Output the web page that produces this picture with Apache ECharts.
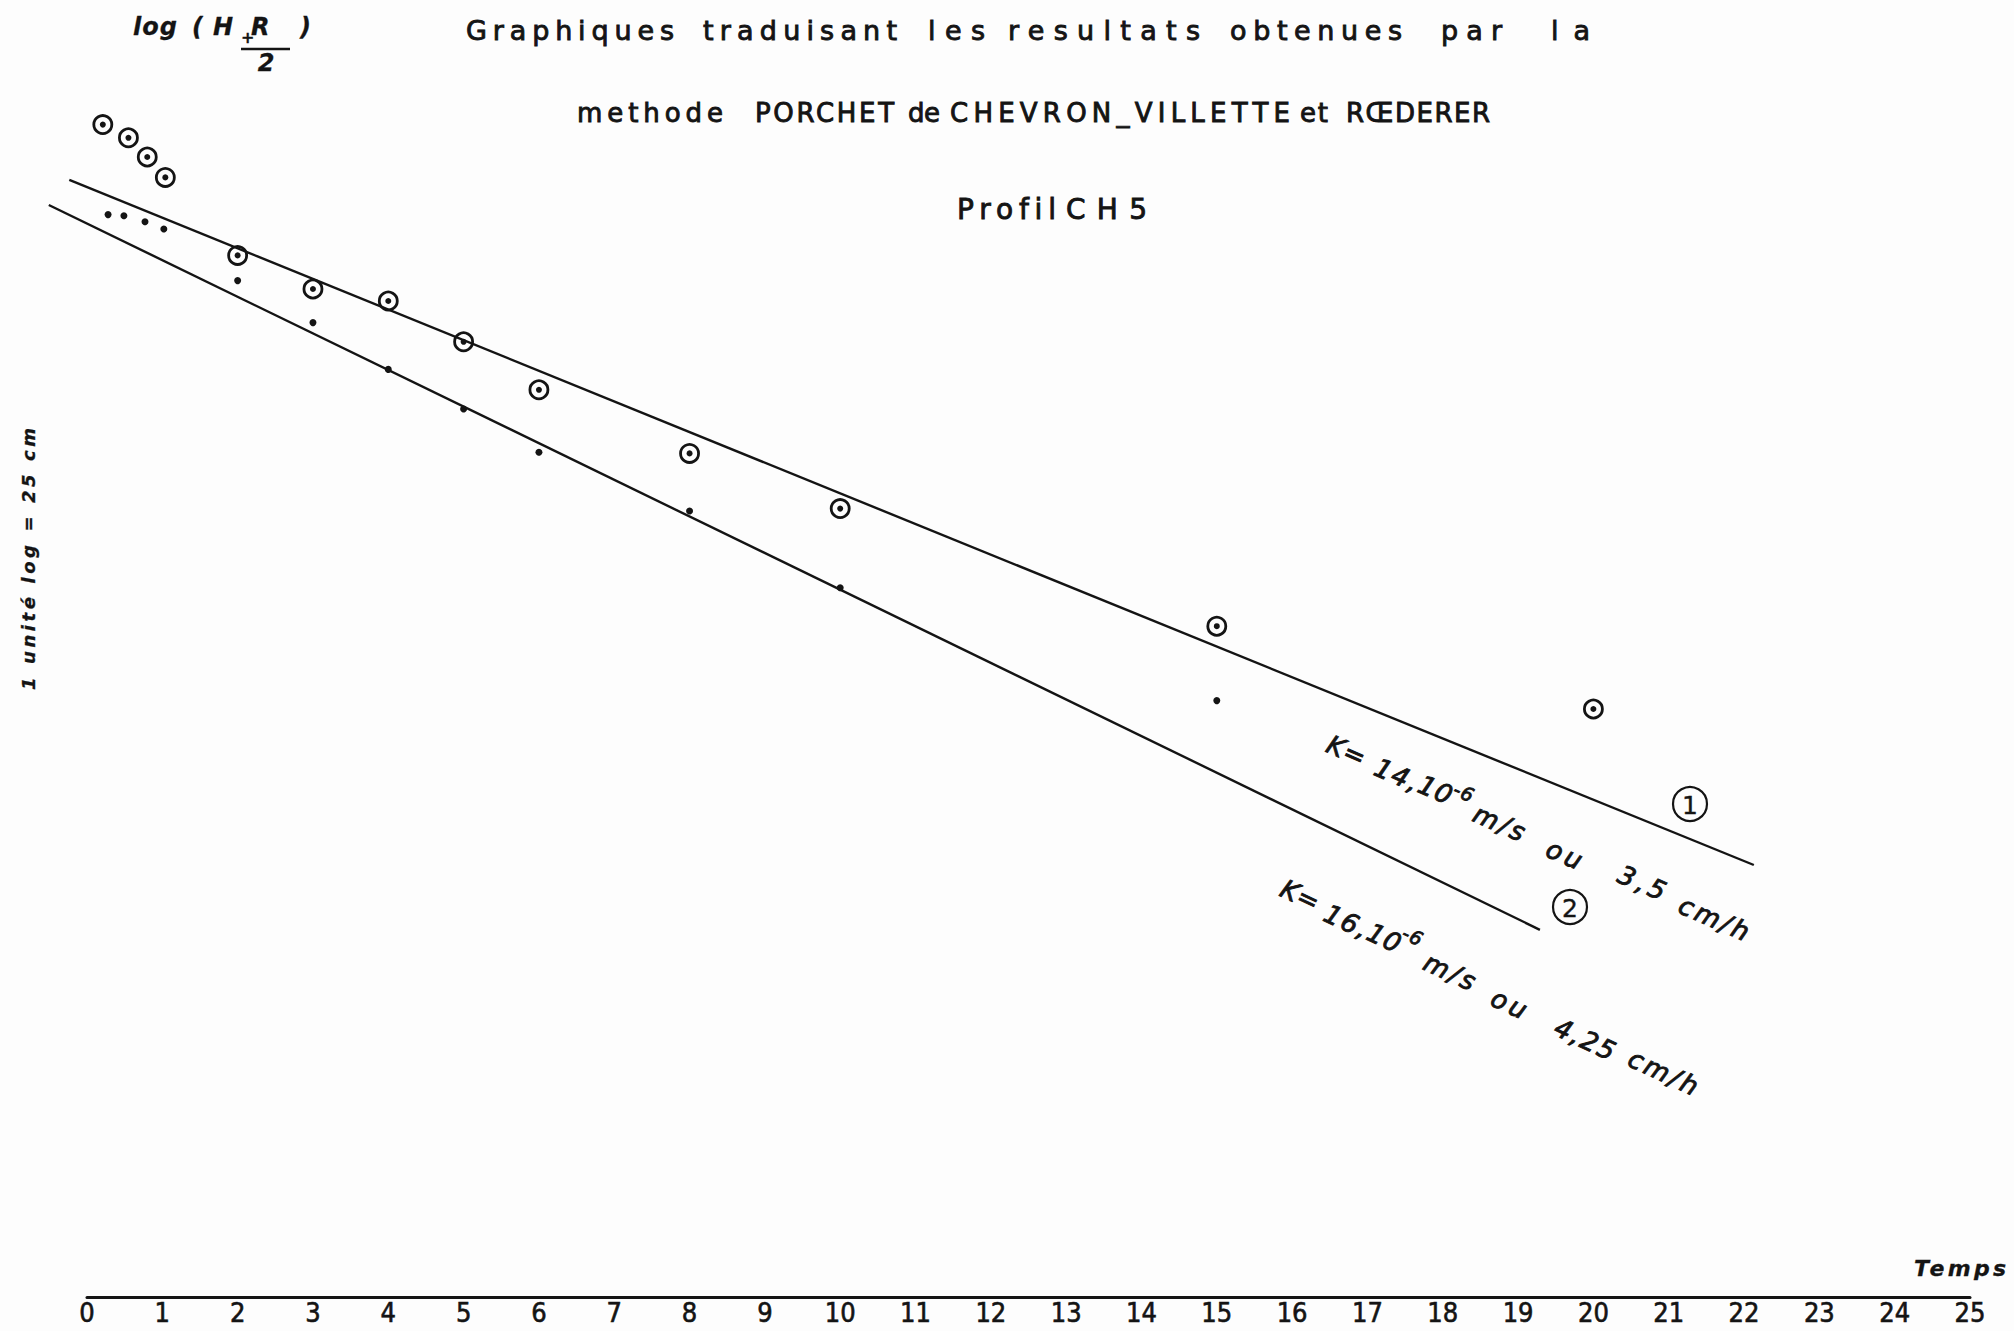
<!DOCTYPE html>
<html>
<head>
<meta charset="utf-8">
<title>Profil CH5 – méthode Porchet</title>
<script src="https://cdn.jsdelivr.net/npm/echarts/dist/echarts.min.js"></script>
<style>
  html, body { margin: 0; padding: 0; background: #fdfdfd; }
  #chart { width: 2014px; height: 1331px; }
</style>
</head>
<body>
<div id="chart"></div>
<script>
// ---- Data: time (h) against log(H + R/2) ----
const timeTicks = [0, 1, 2, 3, 4, 5, 6, 7, 8, 9, 10, 11, 12, 13, 14, 15, 16, 17, 18, 19, 20, 21, 22, 23, 24, 25];

// circled points (curve 1)
const circleTimes = [0.21, 0.55, 0.80, 1.04, 2, 3, 4, 5, 6, 8, 10, 15, 20];
const circleLogs  = [1.777, 1.766, 1.750, 1.733, 1.668, 1.640, 1.630, 1.596, 1.556, 1.503, 1.457, 1.359, 1.290];

// plain dots (curve 2)
const dotTimes = [0.28, 0.49, 0.77, 1.02, 2, 3, 4, 5, 6, 8, 10, 15];
const dotLogs  = [1.702, 1.701, 1.696, 1.690, 1.647, 1.612, 1.573, 1.540, 1.504, 1.455, 1.391, 1.297];

// fitted straight lines ① and ②
const line1Times = [-0.235, 22.13];
const line1Logs  = [1.731, 1.160];
const line2Times = [-0.507, 19.29];
const line2Logs  = [1.710, 1.106];

// ---- Layout & styling ----
const W = 2014, H = 1331;
const GRID = { left: 87, right: 44, top: 97, bottom: 34 };
const UNIT = (W - GRID.left - GRID.right) / 25;      // px per hour
const INK = '#141414';
const TEXT_FONT = "'DejaVu Sans', sans-serif";
const AXIS_FONT = "'DejaVu Sans Condensed', 'DejaVu Sans', sans-serif";

const measureCtx = document.createElement('canvas').getContext('2d');
const letterSpacing = {};   // "text|size" -> px

function label(text, x, y, size, o = {}) {
  const fontStyle = o.italic ? 'italic' : 'normal';
  const fontWeight = o.bold ? 'bold' : 'normal';
  const family = o.family || TEXT_FONT;
  let ls = o.ls || 0;
  if (o.width != null && text.length > 1) {
    measureCtx.font = `${fontStyle} ${fontWeight} ${size}px ${family}`;
    ls = (o.width - measureCtx.measureText(text).width) / (text.length - 1);
  }
  if (ls) letterSpacing[text + '|' + size] = ls;
  const align = o.align || 'left';
  return {
    type: 'text', x, y, rotation: o.rot || 0, silent: true,
    style: {
      text, fill: INK, fontSize: size, fontFamily: family,
      fontStyle, fontWeight,
      stroke: INK, lineWidth: o.weightBoost != null ? o.weightBoost : 0.9,
      align, textAlign: align, verticalAlign: 'middle', textVerticalAlign: 'middle'
    }
  };
}

// word placed between two x positions (letter-spaced to fill)
function word(text, x0, x1, y, size, o = {}) {
  return label(text, x0, y, size, Object.assign({ width: x1 - x0 }, o));
}

// tokens laid along a sloping baseline
function slanted(tokens, ox, oy, deg, size) {
  const a = deg * Math.PI / 180;
  const ux = Math.cos(a), uy = Math.sin(a), nx = Math.sin(a), ny = -Math.cos(a);
  return tokens.map(([t, d, p, ls, s]) =>
    label(t, ox + ux * d + nx * p, oy + uy * d + ny * p, s || size,
          { rot: -a, italic: true, ls }));
}

const graphics = [];

// title, line 1
[
  ['Graphiques', 466, 674], ['traduisant', 703, 897], ['les', 928, 985],
  ['resultats', 1008, 1200], ['obtenues', 1230, 1402], ['par', 1441, 1502], ['la', 1551, 1590]
].forEach(([t, a, b]) => graphics.push(word(t, a, b, 30, 27)));

// title, line 2
[
  ['methode', 577, 723], ['PORCHET', 755, 894], ['de', 908, 940],
  ['CHEVRON_VILLETTE', 950, 1290], ['et', 1300, 1328], ['RŒDERER', 1346, 1490]
].forEach(([t, a, b]) => graphics.push(word(t, a, b, 113, 26)));

// title, line 3
graphics.push(word('Profil', 957, 1056, 209, 28));
graphics.push(word('CH5', 1066, 1147, 209, 28));

// ordinate title: log (H + R/2)
const bi = { italic: true, bold: true, weightBoost: 0.3 };
graphics.push(word('log', 133, 177, 27, 24, bi));
graphics.push(label('(', 192, 27, 24, bi));
graphics.push(label('H', 213, 27, 24, bi));
graphics.push(label('+', 241, 37, 16, bi));
graphics.push(label('R', 251, 27, 24, bi));
graphics.push(label(')', 300, 27, 24, bi));
graphics.push({ type: 'line', silent: true, shape: { x1: 241, y1: 49, x2: 290, y2: 49 },
                style: { stroke: INK, lineWidth: 2.5 } });
graphics.push(label('2', 266, 63, 24, Object.assign({ align: 'center' }, bi)));

// vertical scale note
const note = word('1 unité log = 25 cm', 0, 262, 0, 18, bi);
note.x = 28; note.y = 690; note.rotation = Math.PI / 2;
graphics.push(note);

// abscissa title
graphics.push(word('Temps', 1914, 2006, 1268, 22, bi));

// permeability annotations along the two lines
graphics.push(...slanted([
  ['K=', 0, 0, 1], ['14,', 53, -2, 2], ['10', 100, 0, 1], ['-6', 134, 9, 1, 19],
  ['m/s', 162, -5, 3], ['ou', 243, -8, 4], ['3,5', 319, -3, 4], ['cm/h', 387, -7, 3]
], 1328, 743, 23.5, 26));
graphics.push(...slanted([
  ['K=', 0, 0, 1], ['16,', 50, -4, 2], ['10', 97, -3, 1], ['-6', 129, 11, 1, 19],
  ['m/s', 161, -6, 3], ['ou', 237, -10, 4], ['4,25', 307, -10, 2], ['cm/h', 387, -7, 3]
], 1282, 887, 25, 26));

// circled line numbers
[[1690, 804, '1'], [1570, 907, '2']].forEach(([cx, cy, n]) => {
  graphics.push({ type: 'circle', silent: true, shape: { cx, cy, r: 17 },
                  style: { fill: 'none', stroke: INK, lineWidth: 2.2 } });
  graphics.push(label(n, cx, cy + 1, 25, { align: 'center', weightBoost: 0.4 }));
});

const pairs = (xs, ys) => xs.map((x, i) => [x, ys[i]]);

const chart = echarts.init(document.getElementById('chart'), null, { renderer: 'svg' });
chart.setOption({
  backgroundColor: '#fdfdfd',
  animation: false,
  grid: [
    // plotting area with the drawn time axis
    { left: GRID.left, right: GRID.right, top: GRID.top, bottom: GRID.bottom },
    // same scale, extended one hour to the left so the fitted lines can start before t = 0
    { left: GRID.left - UNIT, right: GRID.right, top: GRID.top, bottom: GRID.bottom }
  ],
  xAxis: [
    {
      type: 'value', gridIndex: 0, min: 0, max: 25, interval: 1,
      axisLine: { onZero: false, lineStyle: { color: INK, width: 3 } },
      axisTick: { show: false },
      splitLine: { show: false },
      axisLabel: {
        color: INK, fontSize: 27, lineHeight: 27, fontFamily: AXIS_FONT, margin: 2,
        textBorderColor: INK, textBorderWidth: 0.6,
        formatter: v => (timeTicks.includes(v) ? String(v) : '')
      }
    },
    { type: 'value', gridIndex: 1, min: -1, max: 25, show: false }
  ],
  yAxis: [
    { type: 'value', gridIndex: 0, min: 0.8, max: 1.8, show: false },
    { type: 'value', gridIndex: 1, min: 0.8, max: 1.8, show: false }
  ],
  series: [
    { type: 'line', xAxisIndex: 1, yAxisIndex: 1, data: pairs(line1Times, line1Logs),
      symbol: 'none', silent: true, lineStyle: { color: INK, width: 2.4 } },
    { type: 'line', xAxisIndex: 1, yAxisIndex: 1, data: pairs(line2Times, line2Logs),
      symbol: 'none', silent: true, lineStyle: { color: INK, width: 2.4 } },
    { type: 'scatter', data: pairs(circleTimes, circleLogs), symbol: 'circle', symbolSize: 18,
      silent: true, itemStyle: { color: 'rgba(0,0,0,0)', borderColor: INK, borderWidth: 2.8, opacity: 1 } },
    { type: 'scatter', data: pairs(circleTimes, circleLogs), symbol: 'circle', symbolSize: 6,
      silent: true, itemStyle: { color: INK, opacity: 1 } },
    { type: 'scatter', data: pairs(dotTimes, dotLogs), symbol: 'circle', symbolSize: 7,
      silent: true, itemStyle: { color: INK, opacity: 1 } }
  ],
  graphic: { elements: graphics }
});

// spread the lettering the way the drafted labels are spaced
function applyLetterSpacing() {
  document.querySelectorAll('#chart text').forEach(t => {
    const size = Math.round(parseFloat(getComputedStyle(t).fontSize));
    const ls = letterSpacing[t.textContent + '|' + size];
    if (ls) t.style.letterSpacing = ls.toFixed(2) + 'px';
  });
}
applyLetterSpacing();
chart.on('finished', applyLetterSpacing);
setTimeout(applyLetterSpacing, 50);
</script>
</body>
</html>
